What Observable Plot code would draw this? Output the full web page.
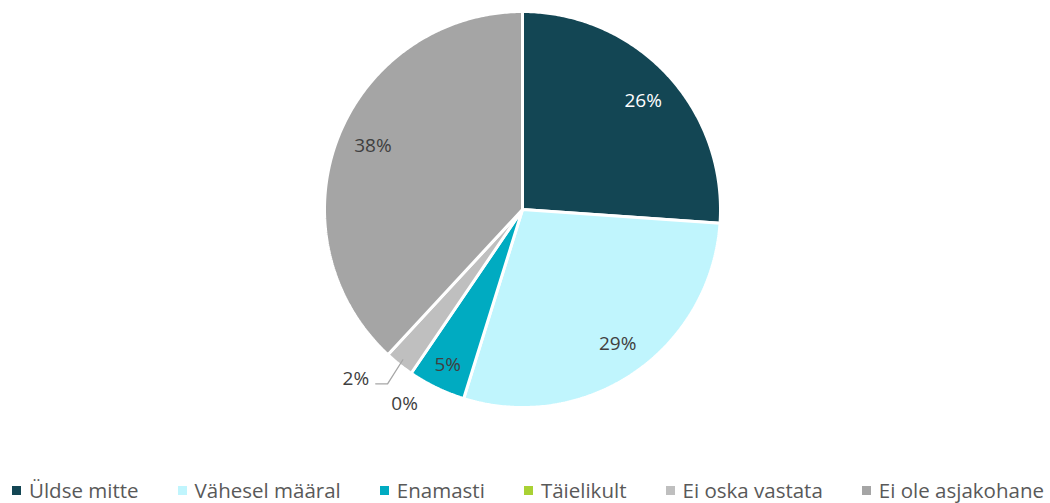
<!DOCTYPE html>
<html>
<head>
<meta charset="utf-8">
<script src="https://cdn.jsdelivr.net/npm/d3@7"></script>
<script src="https://cdn.jsdelivr.net/npm/@observablehq/plot@0.6"></script>
<style>
  html, body { margin: 0; padding: 0; background: #fff; }
  body { width: 1050px; height: 503px; overflow: hidden; font-family: "Open Sans", sans-serif; }
  #chart { height: 472px; }
  #legend { display: flex; justify-content: space-between; align-items: center; box-sizing: border-box; height: 31px; padding: 5px 6px 0 12px; font-size: 20.5px; line-height: 26px; color: #595959; }
  #legend .item { display: flex; align-items: center; white-space: nowrap; }
  #legend .sw { width: 9px; height: 9px; margin-right: 8px; }
</style>
</head>
<body>
<div id="chart"></div>
<div id="legend"></div>
<script>
const categories = ["Üldse mitte", "Vähesel määral", "Enamasti", "Täielikult", "Ei oska vastata", "Ei ole asjakohane"];
const values = [26.1, 28.7, 4.7, 0, 2.4, 38.1];
const labels = ["26%", "29%", "5%", "0%", "2%", "38%"];
const colors = ["#134654", "#C0F5FD", "#00ABC1", "#A9D134", "#BFBFBF", "#A5A5A5"];
const labelColors = ["#ffffff", "#404040", "#404040", "#404040", "#404040", "#404040"];
const labelRadius = [0.82, 0.83, 0.87, 1.15, 1.2, 0.82];
const labelAngleShift = [1, -1, 0, -3, 6, 1.5]; // degrees, label placement nudges

const W = 1050, H = 472;
const pie = d3.pie().sort(null).value(d => d.value).startAngle(0).endAngle(2 * Math.PI);
const data = categories.map((c, i) => ({cat: c, value: values[i], label: labels[i], color: colors[i], lc: labelColors[i], lr: labelRadius[i], ls: labelAngleShift[i]}));
const arcs = pie(data);

const pts = [];
arcs.forEach(a => {
  if (a.endAngle - a.startAngle <= 0) return;
  const n = Math.max(2, Math.ceil((a.endAngle - a.startAngle) / 0.01));
  pts.push({cat: a.data.cat, x: 0, y: 0});
  for (let k = 0; k <= n; k++) {
    const t = a.startAngle + (a.endAngle - a.startAngle) * k / n;
    pts.push({cat: a.data.cat, x: Math.sin(t), y: Math.cos(t)});
  }
  pts.push({cat: a.data.cat, x: 0, y: 0});
});

const labelPts = arcs.map(a => {
  const t = (a.startAngle + a.endAngle) / 2 + a.data.ls * Math.PI / 180;
  return {label: a.data.label, color: a.data.lc, x: a.data.lr * Math.sin(t), y: a.data.lr * Math.cos(t)};
});

const small = arcs[4];
const sm = (small.startAngle + small.endAngle) / 2;
const lp = labelPts[4];
const leader = [
  {x: lp.x + 0.1, y: lp.y - 0.025},
  {x: lp.x + 0.16, y: lp.y - 0.025},
  {x: 0.97 * Math.sin(sm), y: 0.97 * Math.cos(sm)}
];

const chart = Plot.plot({
  width: W,
  height: H,
  marginLeft: 324,
  marginRight: 330,
  marginTop: 11,
  marginBottom: H - 407,
  x: {domain: [-1, 1], axis: null},
  y: {domain: [-1, 1], axis: null},
  color: {domain: categories, range: colors},
  style: {fontFamily: "Open Sans, sans-serif", overflow: "visible"},
  marks: [
    Plot.line(pts, {x: "x", y: "y", z: "cat", fill: "cat", stroke: "#ffffff", strokeWidth: 3, strokeLinejoin: "miter", curve: "linear"}),
    Plot.line(leader, {x: "x", y: "y", stroke: "#A6A6A6", strokeWidth: 1.3}),
    Plot.text(labelPts, {x: "x", y: "y", text: "label", fill: "color", fontSize: 19})
  ]
});
chart.style.display = "block";
document.getElementById("chart").appendChild(chart);

const leg = document.getElementById("legend");
categories.forEach((c, i) => {
  const it = document.createElement("div");
  it.className = "item";
  it.innerHTML = `<span class="sw" style="background:${colors[i]}"></span><span>${c}</span>`;
  leg.appendChild(it);
});
</script>
</body>
</html>
